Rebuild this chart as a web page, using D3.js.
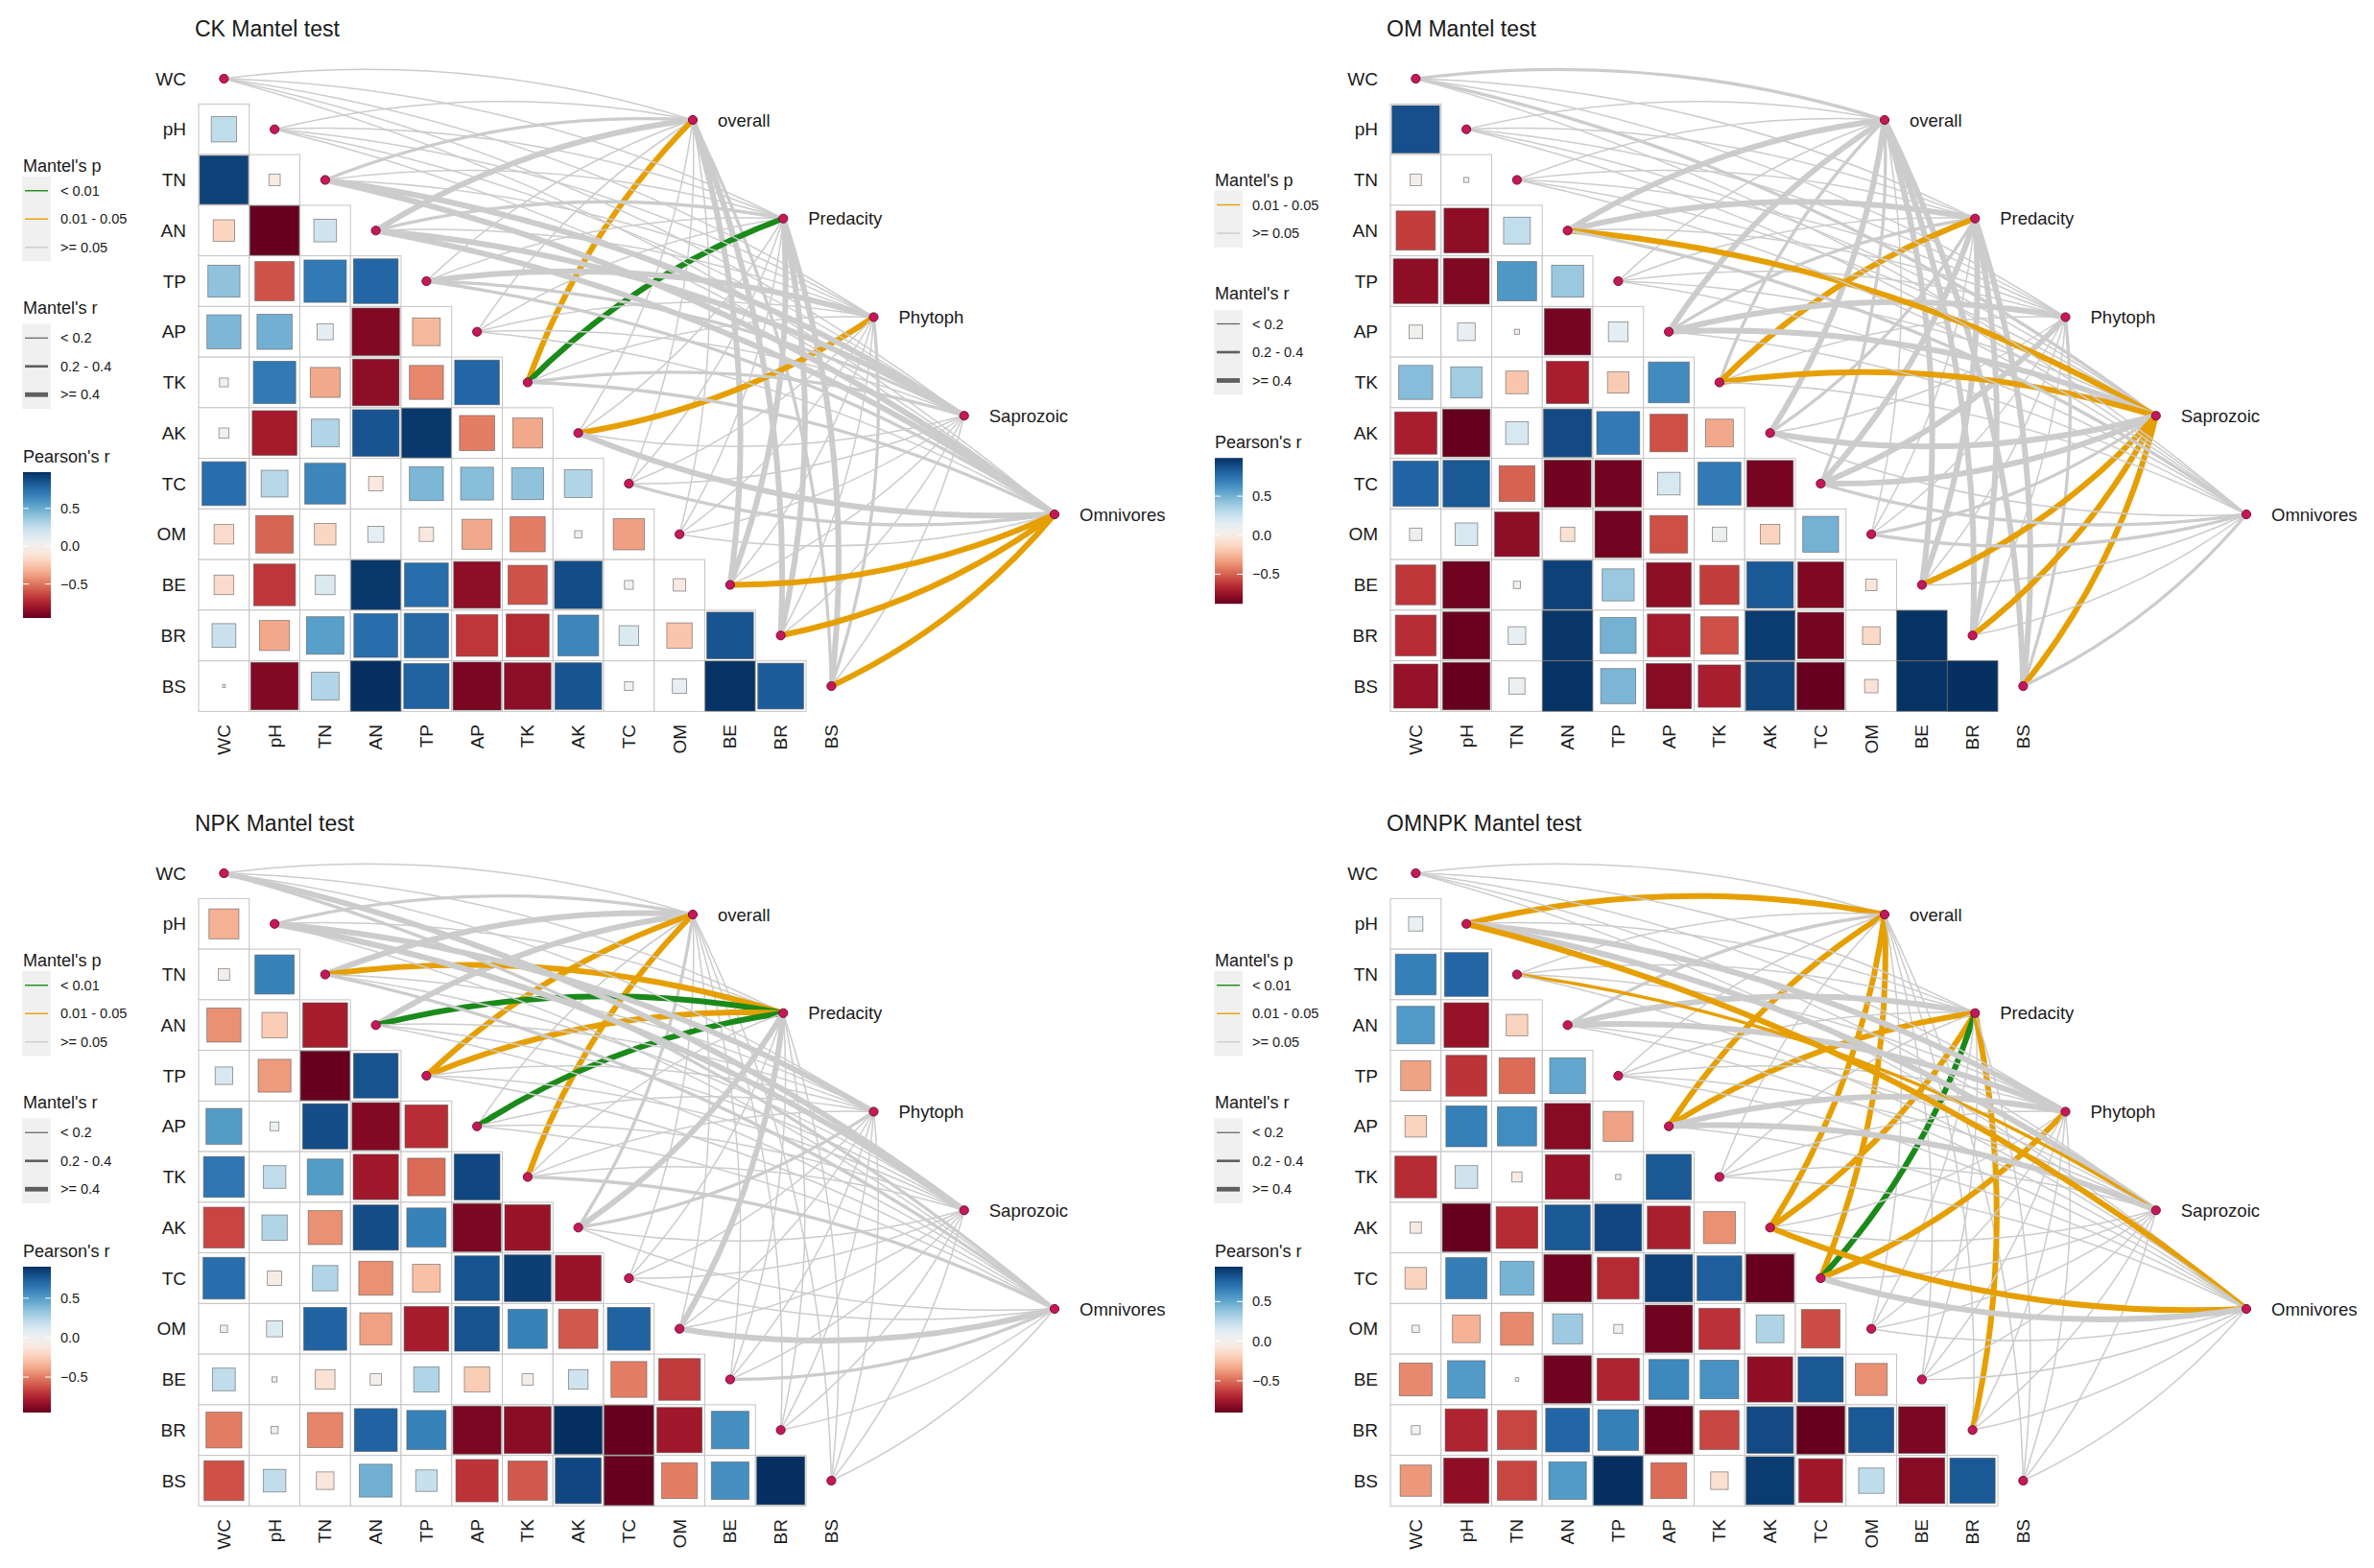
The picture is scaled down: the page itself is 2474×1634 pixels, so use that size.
<!DOCTYPE html>
<html>
<head>
<meta charset="utf-8">
<script src="https://cdn.jsdelivr.net/npm/d3@7"></script>
<style>
    body { margin: 0; background: #fff; }
    text { font-family: "Liberation Sans", Arial, sans-serif; fill: #1a1a1a; }
</style>
</head>
<body>
<div id="wrapper"></div>
<script>
// variables (diagonal of the matrix) and the species groups
const variables = ["WC", "pH", "TN", "AN", "TP", "AP", "TK", "AK", "TC", "OM", "BE", "BR", "BS"]
const groups = ["overall", "Predacity", "Phytoph", "Saprozoic", "Omnivores"]

// Pearson's r, lower triangle: row k is variables[k + 1], columns start at WC
const ckPearson = [
    [0.25],
    [0.92, -0.05],
    [-0.18, -0.95, 0.2],
    [0.4, -0.6, 0.7, 0.78],
    [0.45, 0.48, 0.1, -0.88, -0.3],
    [0.03, 0.7, -0.35, -0.85, -0.45, 0.78],
    [0.04, -0.78, 0.3, 0.85, 0.95, -0.48, -0.35],
    [0.75, 0.28, 0.65, -0.08, 0.45, 0.42, 0.4, 0.3],
    [-0.15, -0.55, -0.18, 0.1, -0.08, -0.35, -0.48, 0.02, -0.38],
    [-0.15, -0.68, 0.15, 0.95, 0.75, -0.85, -0.6, 0.88, 0.03, -0.06],
    [0.22, -0.35, 0.55, 0.75, 0.77, -0.68, -0.72, 0.65, 0.15, -0.25, 0.85],
    [0.003, -0.88, 0.3, 0.98, 0.8, -0.9, -0.85, 0.85, 0.03, 0.08, 0.97, 0.82]
]
const omPearson = [
    [0.88],
    [0.05, 0.01],
    [-0.6, -0.78, 0.28],
    [-0.78, -0.82, 0.6, 0.4],
    [0.07, 0.12, 0.01, -0.84, 0.15],
    [0.45, 0.38, -0.2, -0.7, -0.18, 0.65],
    [-0.7, -0.88, 0.2, 0.9, 0.72, -0.55, -0.3],
    [0.8, 0.85, -0.5, -0.86, -0.85, 0.2, 0.72, -0.84],
    [0.06, 0.2, -0.78, -0.08, -0.85, -0.55, 0.08, -0.15, 0.5],
    [-0.62, -0.86, 0.02, 0.93, 0.4, -0.78, -0.6, 0.85, -0.82, -0.05],
    [-0.65, -0.87, 0.12, 0.97, 0.5, -0.72, -0.55, 0.95, -0.84, -0.12, 0.98],
    [-0.76, -0.88, 0.1, 0.98, 0.48, -0.8, -0.7, 0.92, -0.88, -0.07, 0.98, 0.99]
]
const npkPearson = [
    [-0.35],
    [-0.05, 0.6],
    [-0.45, -0.25, -0.78],
    [0.12, -0.42, -0.95, 0.78],
    [0.5, 0.03, 0.8, -0.88, -0.72],
    [0.65, 0.2, 0.5, -0.8, -0.55, 0.82],
    [-0.65, 0.25, -0.45, 0.8, 0.6, -0.9, -0.82],
    [0.68, -0.08, 0.25, -0.45, -0.3, 0.78, 0.85, -0.82],
    [0.02, 0.1, 0.72, -0.4, -0.78, 0.78, 0.6, -0.6, 0.72],
    [0.2, 0.01, -0.15, -0.05, 0.25, -0.25, -0.05, 0.15, -0.5, -0.68],
    [-0.5, 0.02, -0.48, 0.72, 0.6, -0.9, -0.86, 0.9, -0.95, -0.8, 0.55],
    [-0.62, 0.2, -0.12, 0.42, 0.18, -0.7, -0.6, 0.82, -0.95, -0.5, 0.55, 0.9]
]
const omnpkPearson = [
    [0.08],
    [0.65, 0.75],
    [0.55, -0.78, -0.18],
    [-0.35, -0.65, -0.5, 0.5],
    [-0.18, 0.65, 0.6, -0.82, -0.35],
    [-0.68, 0.2, -0.04, -0.78, 0.01, 0.8],
    [-0.05, -0.9, -0.68, 0.8, 0.86, -0.72, -0.4],
    [-0.18, 0.66, 0.45, -0.88, -0.68, 0.88, 0.78, -0.9],
    [0.02, -0.3, -0.42, 0.35, 0.03, -0.88, -0.66, 0.3, -0.58],
    [-0.42, 0.55, 0.005, -0.88, -0.7, 0.62, 0.58, -0.8, 0.8, -0.4],
    [0.03, -0.7, -0.6, 0.75, 0.65, -0.9, -0.6, 0.85, -0.9, 0.8, -0.85],
    [-0.38, -0.8, -0.6, 0.55, 0.94, -0.5, -0.12, 0.9, -0.75, 0.25, -0.82, 0.8]
]

// Mantel's r, one row per group, columns follow variables
const ckMantelR = [
    [0.1, 0.1, 0.3, 0.5, 0.1, 0.1, 0.5, 0.1, 0.1, 0.1, 0.5, 0.5, 0.3],
    [0.1, 0.1, 0.1, 0.3, 0.1, 0.1, 0.5, 0.1, 0.1, 0.1, 0.5, 0.5, 0.5],
    [0.1, 0.1, 0.1, 0.1, 0.5, 0.1, 0.1, 0.5, 0.1, 0.1, 0.1, 0.1, 0.3],
    [0.1, 0.1, 0.5, 0.5, 0.3, 0.1, 0.3, 0.1, 0.1, 0.1, 0.1, 0.1, 0.1],
    [0.1, 0.1, 0.5, 0.5, 0.3, 0.1, 0.3, 0.5, 0.3, 0.1, 0.5, 0.5, 0.5]
]
const omMantelR = [
    [0.3, 0.1, 0.1, 0.5, 0.1, 0.5, 0.3, 0.5, 0.3, 0.1, 0.5, 0.5, 0.5],
    [0.1, 0.1, 0.1, 0.5, 0.1, 0.3, 0.5, 0.3, 0.5, 0.1, 0.5, 0.5, 0.5],
    [0.1, 0.1, 0.1, 0.1, 0.1, 0.5, 0.1, 0.1, 0.5, 0.1, 0.1, 0.1, 0.3],
    [0.3, 0.1, 0.1, 0.5, 0.1, 0.5, 0.5, 0.5, 0.5, 0.3, 0.5, 0.5, 0.5],
    [0.1, 0.1, 0.1, 0.3, 0.1, 0.1, 0.1, 0.1, 0.3, 0.3, 0.1, 0.1, 0.3]
]
const npkMantelR = [
    [0.1, 0.3, 0.5, 0.5, 0.5, 0.1, 0.5, 0.3, 0.1, 0.1, 0.1, 0.1, 0.1],
    [0.1, 0.1, 0.5, 0.5, 0.5, 0.5, 0.1, 0.5, 0.1, 0.5, 0.1, 0.1, 0.1],
    [0.1, 0.5, 0.1, 0.1, 0.1, 0.1, 0.1, 0.3, 0.1, 0.1, 0.1, 0.1, 0.1],
    [0.5, 0.5, 0.1, 0.1, 0.1, 0.1, 0.1, 0.1, 0.1, 0.1, 0.1, 0.1, 0.1],
    [0.3, 0.1, 0.3, 0.1, 0.1, 0.1, 0.3, 0.1, 0.1, 0.5, 0.3, 0.1, 0.1]
]
const omnpkMantelR = [
    [0.1, 0.5, 0.1, 0.3, 0.1, 0.5, 0.1, 0.5, 0.5, 0.1, 0.1, 0.1, 0.1],
    [0.1, 0.1, 0.1, 0.5, 0.1, 0.5, 0.1, 0.5, 0.5, 0.1, 0.1, 0.5, 0.1],
    [0.1, 0.5, 0.1, 0.5, 0.1, 0.5, 0.1, 0.1, 0.5, 0.1, 0.1, 0.1, 0.1],
    [0.1, 0.5, 0.3, 0.1, 0.1, 0.5, 0.1, 0.1, 0.1, 0.1, 0.1, 0.1, 0.1],
    [0.1, 0.5, 0.1, 0.1, 0.1, 0.1, 0.1, 0.5, 0.5, 0.1, 0.1, 0.1, 0.1]
]

// Mantel's p, same layout
const ckMantelP = [
    [0.5, 0.5, 0.5, 0.5, 0.5, 0.5, 0.03, 0.5, 0.5, 0.5, 0.5, 0.5, 0.5],
    [0.5, 0.5, 0.5, 0.5, 0.5, 0.5, 0.005, 0.5, 0.5, 0.5, 0.5, 0.5, 0.5],
    [0.5, 0.5, 0.5, 0.5, 0.5, 0.5, 0.5, 0.03, 0.5, 0.5, 0.5, 0.5, 0.5],
    [0.5, 0.5, 0.5, 0.5, 0.5, 0.5, 0.5, 0.5, 0.5, 0.5, 0.5, 0.5, 0.5],
    [0.5, 0.5, 0.5, 0.5, 0.5, 0.5, 0.5, 0.5, 0.5, 0.5, 0.03, 0.03, 0.03]
]
const omMantelP = [
    [0.5, 0.5, 0.5, 0.5, 0.5, 0.5, 0.5, 0.5, 0.5, 0.5, 0.5, 0.5, 0.5],
    [0.5, 0.5, 0.5, 0.5, 0.5, 0.5, 0.03, 0.5, 0.5, 0.5, 0.5, 0.5, 0.5],
    [0.5, 0.5, 0.5, 0.5, 0.5, 0.5, 0.5, 0.5, 0.5, 0.5, 0.5, 0.5, 0.5],
    [0.5, 0.5, 0.5, 0.03, 0.5, 0.5, 0.03, 0.5, 0.5, 0.5, 0.03, 0.03, 0.03],
    [0.5, 0.5, 0.5, 0.5, 0.5, 0.5, 0.5, 0.5, 0.5, 0.5, 0.5, 0.5, 0.5]
]
const npkMantelP = [
    [0.5, 0.5, 0.5, 0.5, 0.03, 0.5, 0.03, 0.5, 0.5, 0.5, 0.5, 0.5, 0.5],
    [0.5, 0.5, 0.03, 0.005, 0.03, 0.005, 0.5, 0.5, 0.5, 0.5, 0.5, 0.5, 0.5],
    [0.5, 0.5, 0.5, 0.5, 0.5, 0.5, 0.5, 0.5, 0.5, 0.5, 0.5, 0.5, 0.5],
    [0.5, 0.5, 0.5, 0.5, 0.5, 0.5, 0.5, 0.5, 0.5, 0.5, 0.5, 0.5, 0.5],
    [0.5, 0.5, 0.5, 0.5, 0.5, 0.5, 0.5, 0.5, 0.5, 0.5, 0.5, 0.5, 0.5]
]
const omnpkMantelP = [
    [0.5, 0.03, 0.5, 0.5, 0.5, 0.03, 0.5, 0.03, 0.03, 0.5, 0.5, 0.5, 0.5],
    [0.5, 0.5, 0.5, 0.5, 0.5, 0.03, 0.5, 0.03, 0.005, 0.5, 0.5, 0.03, 0.5],
    [0.5, 0.5, 0.5, 0.5, 0.5, 0.5, 0.5, 0.5, 0.03, 0.5, 0.5, 0.5, 0.5],
    [0.5, 0.5, 0.03, 0.5, 0.5, 0.5, 0.5, 0.5, 0.5, 0.5, 0.5, 0.5, 0.5],
    [0.5, 0.03, 0.5, 0.5, 0.5, 0.5, 0.5, 0.03, 0.5, 0.5, 0.5, 0.5, 0.5]
]

const titles = ["CK Mantel test", "OM Mantel test", "NPK Mantel test", "OMNPK Mantel test"]
const pLabels = ["< 0.01", "0.01 - 0.05", ">= 0.05"]
const rLabels = ["< 0.2", "0.2 - 0.4", ">= 0.4"]
const barTicks = [0.5, 0.0, -0.5]

const panels = [
    { title: titles[0], pearson: ckPearson, mr: ckMantelR, mp: ckMantelP, dx: 0, dy: 0 },
    { title: titles[1], pearson: omPearson, mr: omMantelR, mp: omMantelP, dx: 1242, dy: 0 },
    { title: titles[2], pearson: npkPearson, mr: npkMantelR, mp: npkMantelP, dx: 0, dy: 828 },
    { title: titles[3], pearson: omnpkPearson, mr: omnpkMantelR, mp: omnpkMantelP, dx: 1242, dy: 828 }
]

const W = 2474, H = 1634
const cell = 52.75
const gridLeft = 207, gridTop = 82 - cell / 2

const pColor = d3.scaleThreshold().domain([0.01, 0.05]).range(["#1a8a1a", "#e69f00", "#cccccc"])
const rWidth = d3.scaleThreshold().domain([0.2, 0.4]).range([1.5, 3.3, 6])

const svg = d3.select("#wrapper")
    .append("svg")
    .attr("width", W)
    .attr("height", H)

function curve(x1, y1, x2, y2, side) {
    // quadratic bend, upper variables bend to the left, lower ones to the right
    const c = 0.11
    const mx = (x1 + x2) / 2, my = (y1 + y2) / 2
    const cx = mx + side * c * (y2 - y1)
    const cy = my - side * c * (x2 - x1)
    return `M${x1},${y1}Q${cx},${cy} ${x2},${y2}`
}

panels.forEach(function(p, pi) {
    const g = svg.append("g").attr("transform", `translate(${p.dx},${p.dy})`)

    const x = d3.scaleBand().domain(variables).range([gridLeft, gridLeft + cell * variables.length])
    const y = d3.scaleBand().domain(variables).range([gridTop, gridTop + cell * variables.length])
    const gx = d3.scaleLinear().domain([0, 4]).range([722, 1099])
    const gy = d3.scaleLinear().domain([0, 4]).range([125, 536])

    // flatten the triangle
    const cells = []
    p.pearson.forEach(function(row, k) {
        row.forEach(function(r, j) {
            cells.push({ row: variables[k + 1], col: variables[j], r: r })
        })
    })
    const rmin = d3.min(cells, d => d.r), rmax = d3.max(cells, d => d.r)
    const fill = d3.scaleSequential(d3.interpolateRdBu).domain([rmin, rmax])

    // title
    g.append("text")
        .attr("x", 203)
        .attr("y", 30)
        .attr("dominant-baseline", "central")
        .style("font-size", "23px")
        .text(p.title)

    // cells
    g.selectAll(".cell")
        .data(cells)
        .enter()
        .append("rect")
        .attr("x", d => x(d.col))
        .attr("y", d => y(d.row))
        .attr("width", cell)
        .attr("height", cell)
        .attr("fill", "#fff")
        .attr("stroke", "#c4c4c4")
        .attr("stroke-width", 1)

    g.selectAll(".sq")
        .data(cells)
        .enter()
        .append("rect")
        .attr("x", d => x(d.col) + (cell - cell * Math.sqrt(Math.abs(d.r))) / 2)
        .attr("y", d => y(d.row) + (cell - cell * Math.sqrt(Math.abs(d.r))) / 2)
        .attr("width", d => cell * Math.sqrt(Math.abs(d.r)))
        .attr("height", d => cell * Math.sqrt(Math.abs(d.r)))
        .attr("fill", d => fill(d.r))
        .attr("stroke", "#5a5a5a")
        .attr("stroke-opacity", 0.7)
        .attr("stroke-width", 0.8)

    // links, drawn group after group
    const links = []
    groups.forEach(function(grp, gi) {
        variables.forEach(function(v, vi) {
            links.push({
                x1: x(v) + cell / 2, y1: y(v) + cell / 2,
                x2: gx(gi), y2: gy(gi),
                side: vi <= 6 ? 1 : -1,
                r: p.mr[gi][vi], p: p.mp[gi][vi]
            })
        })
    })
    g.selectAll(".link")
        .data(links)
        .enter()
        .append("path")
        .attr("d", d => curve(d.x1, d.y1, d.x2, d.y2, d.side))
        .attr("fill", "none")
        .attr("stroke", d => pColor(d.p))
        .attr("stroke-width", d => rWidth(d.r))

    // nodes
    g.selectAll(".vnode")
        .data(variables)
        .enter()
        .append("circle")
        .attr("cx", d => x(d) + cell / 2)
        .attr("cy", d => y(d) + cell / 2)
        .attr("r", 4.6)
        .attr("fill", "#c4185a")
        .attr("stroke", "#7a0f32")
        .attr("stroke-width", 1)
    g.selectAll(".gnode")
        .data(groups)
        .enter()
        .append("circle")
        .attr("cx", (d, i) => gx(i))
        .attr("cy", (d, i) => gy(i))
        .attr("r", 4.6)
        .attr("fill", "#c4185a")
        .attr("stroke", "#7a0f32")
        .attr("stroke-width", 1)
    g.selectAll(".glabel")
        .data(groups)
        .enter()
        .append("text")
        .attr("x", (d, i) => gx(i) + 26)
        .attr("y", (d, i) => gy(i))
        .attr("dominant-baseline", "central")
        .style("font-size", "18.5px")
        .text(d => d)

    // axes
    g.selectAll(".rlabel")
        .data(variables)
        .enter()
        .append("text")
        .attr("x", gridLeft - 13)
        .attr("y", d => y(d) + cell / 2)
        .attr("text-anchor", "end")
        .attr("dominant-baseline", "central")
        .style("font-size", "19px")
        .text(d => d)
    g.selectAll(".clabel")
        .data(variables)
        .enter()
        .append("text")
        .attr("transform", d => `translate(${x(d) + cell / 2},755) rotate(-90)`)
        .attr("text-anchor", "end")
        .attr("dominant-baseline", "central")
        .style("font-size", "19px")
        .text(d => d)

    // legend
    const pUsed = [0, 1, 2].filter(k => links.some(l => pColor(l.p) == pColor.range()[k]))
    const rUsed = [0, 1, 2].filter(k => links.some(l => rWidth(l.r) == rWidth.range()[k]))
    const keyH = 29.5, barH = 152
    const total = 20 + keyH * pUsed.length + 48 + 17 + keyH * rUsed.length + 50 + 16 + barH
    let ty = 404 - total / 2
    const lg = g.append("g")

    function legendTitle(t, yy) {
        lg.append("text").attr("x", 24).attr("y", yy).attr("dominant-baseline", "central")
            .style("font-size", "18px").text(t)
    }
    legendTitle("Mantel's p", ty + 9)
    let ky = ty + 20
    lg.append("rect").attr("x", 23).attr("y", ky).attr("width", 30).attr("height", keyH * pUsed.length).attr("fill", "#f0f0f0")
    pUsed.forEach(function(k, i) {
        const cy = ky + keyH * (i + 0.5)
        lg.append("line").attr("x1", 26).attr("x2", 50).attr("y1", cy).attr("y2", cy)
            .attr("stroke", pColor.range()[k]).attr("stroke-width", 1.4)
        lg.append("text").attr("x", 63).attr("y", cy).attr("dominant-baseline", "central")
            .style("font-size", "14.5px").text(pLabels[k])
    })
    ky += keyH * pUsed.length
    legendTitle("Mantel's r", ky + 48)
    ky += 48 + 17
    lg.append("rect").attr("x", 23).attr("y", ky).attr("width", 30).attr("height", keyH * rUsed.length).attr("fill", "#f0f0f0")
    rUsed.forEach(function(k, i) {
        const cy = ky + keyH * (i + 0.5)
        lg.append("line").attr("x1", 26).attr("x2", 50).attr("y1", cy).attr("y2", cy)
            .attr("stroke", "#5f5f5f").attr("stroke-width", rWidth.range()[k] * 0.8)
        lg.append("text").attr("x", 63).attr("y", cy).attr("dominant-baseline", "central")
            .style("font-size", "14.5px").text(rLabels[k])
    })
    ky += keyH * rUsed.length
    legendTitle("Pearson's r", ky + 50)
    const by = ky + 50 + 16

    const gradId = "grad" + pi
    const grad = svg.append("defs").append("linearGradient").attr("id", gradId)
        .attr("x1", 0).attr("x2", 0).attr("y1", 1).attr("y2", 0)
    d3.range(0, 1.0001, 0.05).forEach(function(t) {
        grad.append("stop").attr("offset", t).attr("stop-color", d3.interpolateRdBu(t))
    })
    lg.append("rect").attr("x", 24).attr("y", by).attr("width", 29).attr("height", barH)
        .attr("fill", `url(#${gradId})`)
    const bs = d3.scaleLinear().domain([rmin, rmax]).range([by + barH, by])
    barTicks.forEach(function(t) {
        lg.append("line").attr("x1", 24).attr("x2", 30).attr("y1", bs(t)).attr("y2", bs(t))
            .attr("stroke", "#fff").attr("stroke-width", 1)
        lg.append("line").attr("x1", 47).attr("x2", 53).attr("y1", bs(t)).attr("y2", bs(t))
            .attr("stroke", "#fff").attr("stroke-width", 1)
        lg.append("text").attr("x", 63).attr("y", bs(t)).attr("dominant-baseline", "central")
            .style("font-size", "14.5px").text(d3.format(".1f")(t))
    })
})
</script>
</body>
</html>
